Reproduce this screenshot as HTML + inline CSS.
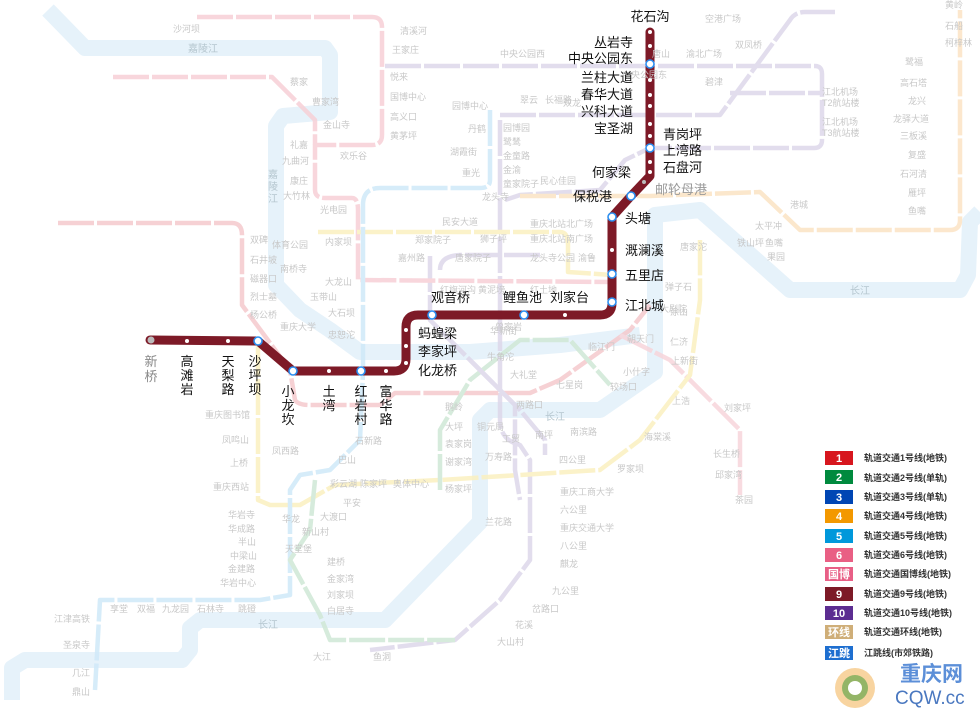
<!DOCTYPE html>
<html><head><meta charset="utf-8"><style>
html,body{margin:0;padding:0;background:#fff;}
svg{display:block;font-family:"Liberation Sans","Noto Sans CJK SC",sans-serif;}
.f{fill:#c8c8c8;font-size:9px;}
.b{fill:#111;font-size:13px;}
.lg{fill:#333;font-size:9px;font-weight:bold;}
.bx{font-size:11px;font-weight:bold;fill:#fff;}
</style></head><body>
<svg width="980" height="710" viewBox="0 0 980 710" xmlns="http://www.w3.org/2000/svg">
<rect width="980" height="710" fill="#fff"/>
<!-- rivers -->
<g fill="none" stroke="#e6f2fa" stroke-width="16" stroke-linejoin="round" stroke-linecap="butt">
<path d="M48,10 L85,48 L325,48 L330,55 L330,112 L283,116 L276,126 L276,285 L300,310 L330,330 L360,352 L470,352 L560,345 L640,335"/>
<path d="M12,700 L12,668 L25,660 L182,660 L190,650 L190,628 L200,620 L385,620 L480,522 L480,420 L490,410 L600,410 L655,372 L655,215 L700,210 L790,290 L960,290 L968,275 L970,222 L980,212"/>
</g>
<!-- faint lines -->
<g fill="none" stroke-width="4.5" stroke-linejoin="round" stroke-dasharray="36 3" opacity="0.85">
<path stroke="#ddd8ea" d="M385,66 L815,66 Q822,66 822,74 L822,140 Q822,148 814,148 L650,148 L625,160 L600,190 L520,195 L505,200"/>
<path stroke="#ddd8ea" d="M500,115 L720,115 L790,20 Q795,12 805,12 L835,12"/>
<path stroke="#ddd8ea" d="M730,93 L822,93"/>
<path stroke="#ddd8ea" d="M500,120 L500,240 L500,420 Q500,440 520,445 L530,460 L530,560 L500,600 L455,640 L370,650"/>
<path stroke="#ddd8ea" d="M430,256 L430,320 L470,360 L520,410 L545,440 L545,455"/>
<path stroke="#ddd8ea" d="M540,255 L460,255 Q440,256 440,270"/>
<path stroke="#f7d0d6" d="M197,17 L372,17 Q382,17 382,27 L382,135 Q382,145 372,145 L315,145 L315,190 Q315,198 325,198 L352,198 Q358,198 358,210 L358,280 L612,282"/>
<path stroke="#f7d0d6" d="M113,77 L272,77 L315,120 L315,145"/>
<path stroke="#f5c9cd" d="M58,223 L232,223 Q242,223 242,235 L242,305 L290,370 L295,400 Q298,405 310,405 L380,405 L395,393 L440,393 L530,393 L560,380 L630,330 L650,305"/>
<path stroke="#f7d5db" d="M620,335 L670,360 L740,430 L740,495"/>
<path stroke="#fbf0c0" d="M258,340 L258,500 L270,505 L300,505 L335,485 L440,480 L600,470 L640,440 L690,375 L700,300 L700,240"/>
<path stroke="#fbf0c0" d="M318,232 L340,232 L500,232 L560,232 Q568,232 568,245 L568,272 L612,275"/>
<path stroke="#fbe3c4" d="M520,196 L612,196 L650,196 L760,192 L800,230 L950,230 Q960,230 960,220 L960,10"/>
<path stroke="#cfe9f8" d="M490,110 L490,180 Q490,188 480,188 L380,188 Q363,188 363,205 L363,372 L360,440 L330,470 L300,475 L290,490 L290,595 L260,600 L100,600 L95,690"/>
<path stroke="#d0e8d6" d="M315,480 L310,530 L290,560 L320,615 L330,640 L455,640"/>
<path stroke="#d0e8d6" d="M440,490 L440,430 L470,380 L520,340 L570,340 L610,385"/>
<path stroke="#ddd8ea" d="M470,360 L515,405 L515,470 L520,500"/>
</g>
<!-- line 9 -->
<path d="M150,340 L258,341 L293,371 L394,371 Q406,371 406,359 L406,327 Q406,315 418,315 L600,315 Q612,315 612,303 L612,217 L631,196 L650,176 L650,32" fill="none" stroke="#7d1a27" stroke-width="9" stroke-linejoin="round" stroke-linecap="round"/>
<g fill="#fff">
<circle cx="151" cy="340" r="3.5" fill="#bbb"/>
<circle cx="187" cy="341" r="2"/><circle cx="228" cy="341" r="2"/>
<circle cx="329" cy="371" r="2"/><circle cx="386" cy="371" r="2"/>
<circle cx="406" cy="330" r="2"/><circle cx="406" cy="346" r="2"/><circle cx="406" cy="363" r="2"/>
<circle cx="565" cy="315" r="2"/><circle cx="612" cy="250" r="2"/>
<circle cx="644" cy="182" r="2" fill="#bbb"/>
<circle cx="650" cy="32" r="2"/><circle cx="650" cy="46" r="2"/><circle cx="650" cy="80" r="2"/><circle cx="650" cy="95" r="2"/><circle cx="650" cy="106" r="2"/><circle cx="650" cy="124" r="2"/><circle cx="650" cy="136" r="2"/><circle cx="650" cy="162" r="2"/><circle cx="650" cy="172" r="2"/>
</g>
<g fill="#fff" stroke="#2b8ef0" stroke-width="1.6">
<circle cx="258" cy="341" r="4"/><circle cx="293" cy="371" r="4"/><circle cx="361" cy="371" r="4"/>
<circle cx="432" cy="315" r="4"/><circle cx="524" cy="315" r="4"/>
<circle cx="612" cy="302" r="4"/><circle cx="612" cy="274" r="4"/><circle cx="612" cy="217" r="4"/>
<circle cx="631" cy="196" r="4"/><circle cx="650" cy="64" r="4"/><circle cx="650" cy="148" r="4"/>
</g>
<!-- faint labels -->
<g class="f">
<text x="173" y="32">沙河坝</text><text x="400" y="34">清溪河</text><text x="392" y="53">王家庄</text><text x="390" y="80">悦来</text>
<text x="390" y="100">国博中心</text><text x="390" y="120">高义口</text><text x="390" y="139">黄茅坪</text>
<text x="290" y="85">蔡家</text><text x="312" y="105">曹家湾</text><text x="323" y="128">金山寺</text>
<text x="290" y="148">礼嘉</text><text x="282" y="164">九曲河</text><text x="290" y="184">康庄</text><text x="283" y="199">大竹林</text>
<text x="340" y="159">欢乐谷</text><text x="320" y="213">光电园</text><text x="325" y="245">内家坝</text>
<text x="250" y="243">双碑</text><text x="250" y="263">石井坡</text><text x="250" y="282">磁器口</text><text x="250" y="300">烈士墓</text><text x="250" y="318">杨公桥</text>
<text x="272" y="248">体育公园</text><text x="280" y="272">南桥寺</text><text x="325" y="285">大龙山</text><text x="310" y="300">玉带山</text><text x="328" y="316">大石坝</text><text x="280" y="330">重庆大学</text><text x="328" y="338">忠恕沱</text>
<text x="205" y="418">重庆图书馆</text><text x="222" y="443">凤鸣山</text><text x="230" y="466">上桥</text><text x="213" y="490">重庆西站</text>
<text x="228" y="518">华岩寺</text><text x="228" y="532">华成路</text><text x="238" y="545">半山</text><text x="230" y="559">中梁山</text><text x="228" y="572">金建路</text><text x="220" y="586">华岩中心</text>
<text x="110" y="612">享堂</text><text x="137" y="612">双福</text><text x="162" y="612">九龙园</text><text x="197" y="612">石林寺</text><text x="238" y="612">跳磴</text>
<text x="54" y="622">江津高铁</text><text x="63" y="648">圣泉寺</text><text x="72" y="676">几江</text><text x="72" y="695">鼎山</text>
<text x="272" y="454">凤西路</text><text x="355" y="444">石新路</text><text x="338" y="463">巴山</text><text x="330" y="487">彩云湖</text><text x="360" y="487">陈家坪</text><text x="393" y="487">奥体中心</text>
<text x="282" y="522">华龙</text><text x="320" y="520">大渡口</text><text x="302" y="535">新山村</text><text x="285" y="552">天堂堡</text><text x="343" y="506">平安</text>
<text x="327" y="565">建桥</text><text x="327" y="582">金家湾</text><text x="327" y="598">刘家坝</text><text x="327" y="614">白居寺</text><text x="313" y="660">大江</text><text x="373" y="660">鱼洞</text>
<text x="490" y="334">华新街</text><text x="495" y="330">曾家岩</text><text x="487" y="360">牛角沱</text><text x="510" y="378">大礼堂</text><text x="556" y="388">七星岗</text><text x="516" y="408">两路口</text>
<text x="588" y="350">临江门</text><text x="627" y="342">朝天门</text><text x="623" y="375">小什字</text><text x="610" y="390">较场口</text><text x="671" y="364">上新街</text><text x="670" y="345">仁济</text>
<text x="445" y="410">鹅岭</text><text x="445" y="430">大坪</text><text x="445" y="447">袁家岗</text><text x="445" y="465">谢家湾</text><text x="445" y="492">杨家坪</text>
<text x="477" y="430">铜元局</text><text x="502" y="442">工贸</text><text x="485" y="460">万寿路</text><text x="535" y="438">南坪</text><text x="570" y="435">南滨路</text><text x="559" y="463">四公里</text>
<text x="560" y="495">重庆工商大学</text><text x="560" y="513">六公里</text><text x="560" y="531">重庆交通大学</text><text x="560" y="549">八公里</text><text x="560" y="567">麒龙</text><text x="552" y="594">九公里</text><text x="532" y="612">岔路口</text><text x="515" y="628">花溪</text><text x="497" y="645">大山村</text>
<text x="485" y="525">兰花路</text><text x="617" y="472">罗家坝</text><text x="644" y="440">海棠溪</text><text x="672" y="404">上浩</text><text x="724" y="411">刘家坪</text><text x="713" y="457">长生桥</text><text x="715" y="478">邱家湾</text><text x="735" y="503">茶园</text>
<text x="705" y="22">空港广场</text><text x="735" y="48">双凤桥</text><text x="705" y="85">碧津</text><text x="686" y="57">渝北广场</text><text x="652" y="57">唐山</text>
<text x="822" y="95">江北机场</text><text x="822" y="106">T2航站楼</text><text x="822" y="125">江北机场</text><text x="822" y="136">T3航站楼</text>
<text x="500" y="57">中央公园西</text><text x="520" y="103">翠云</text><text x="545" y="103">长福路</text><text x="563" y="106">双龙</text><text x="622" y="78">中央公园东</text>
<text x="452" y="109">园博中心</text><text x="468" y="132">丹鹤</text><text x="450" y="155">湖霞街</text><text x="462" y="176">重光</text>
<text x="503" y="131">园博园</text><text x="503" y="145">鹭鸶</text><text x="503" y="159">金童路</text><text x="503" y="173">金渝</text><text x="503" y="187">童家院子</text><text x="540" y="184">民心佳园</text>
<text x="482" y="200">龙头寺</text><text x="442" y="225">民安大道</text><text x="480" y="242">狮子坪</text><text x="415" y="243">郑家院子</text><text x="398" y="261">嘉州路</text><text x="455" y="261">唐家院子</text>
<text x="530" y="227">重庆北站北广场</text><text x="530" y="242">重庆北站南广场</text><text x="530" y="261">龙头寺公园</text><text x="578" y="261">渝鲁</text>
<text x="440" y="293">红旗河沟</text><text x="478" y="293">黄泥塝</text><text x="530" y="293">红土地</text>
<text x="680" y="250">唐家沱</text><text x="737" y="246">铁山坪</text><text x="765" y="246">鱼嘴</text><text x="767" y="260">果园</text><text x="790" y="208">港城</text><text x="755" y="229">太平冲</text>
<text x="905" y="65">鹭福</text><text x="900" y="86">高石塔</text><text x="908" y="104">龙兴</text><text x="893" y="122">龙驿大道</text><text x="900" y="139">三板溪</text><text x="908" y="158">复盛</text><text x="900" y="177">石河清</text><text x="908" y="196">雁坪</text><text x="908" y="214">鱼嘴</text>
<text x="945" y="8">黄岭</text><text x="945" y="29">石船</text><text x="945" y="46">柯梓林</text>
<text x="665" y="290">弹子石</text><text x="670" y="315">涂山</text><text x="660" y="312">大剧院</text>
</g>
<g fill="#b5c6cf" font-size="10"><text x="188" y="52">嘉陵江</text><text x="258" y="628">长江</text><text x="545" y="420">长江</text><text x="850" y="294">长江</text></g>
<g fill="#b5c6cf" font-size="10"><text x="268" y="178">嘉</text><text x="268" y="190">陵</text><text x="268" y="202">江</text></g>
<!-- line 9 labels -->
<g class="b">
<text x="650" y="21" text-anchor="middle">花石沟</text>
<text x="633" y="47" text-anchor="end">丛岩寺</text>
<text x="633" y="63" text-anchor="end">中央公园东</text>
<text x="633" y="82" text-anchor="end">兰柱大道</text>
<text x="633" y="99" text-anchor="end">春华大道</text>
<text x="633" y="116" text-anchor="end">兴科大道</text>
<text x="633" y="133" text-anchor="end">宝圣湖</text>
<text x="663" y="139">青岗坪</text><text x="663" y="155">上湾路</text><text x="663" y="172">石盘河</text>
<text x="631" y="177" text-anchor="end">何家梁</text>
<text x="612" y="201" text-anchor="end">保税港</text>
<text x="625" y="223">头塘</text><text x="625" y="255">溉澜溪</text><text x="625" y="280">五里店</text><text x="625" y="310">江北城</text>
<text x="550" y="302">刘家台</text><text x="503" y="302">鲤鱼池</text><text x="431" y="302">观音桥</text>
<text x="418" y="338">蚂蝗梁</text><text x="418" y="356">李家坪</text><text x="418" y="375">化龙桥</text>
</g>
<g class="b" text-anchor="middle">
<text x="151" y="366" fill="#888">新</text><text x="151" y="381" fill="#888">桥</text>
<text x="187" y="366">高</text><text x="187" y="380">滩</text><text x="187" y="394">岩</text>
<text x="228" y="366">天</text><text x="228" y="380">梨</text><text x="228" y="394">路</text>
<text x="255" y="366">沙</text><text x="255" y="380">坪</text><text x="255" y="394">坝</text>
<text x="288" y="396">小</text><text x="288" y="410">龙</text><text x="288" y="424">坎</text>
<text x="329" y="396">土</text><text x="329" y="410">湾</text>
<text x="361" y="396">红</text><text x="361" y="410">岩</text><text x="361" y="424">村</text>
<text x="386" y="396">富</text><text x="386" y="410">华</text><text x="386" y="424">路</text>
</g>
<text x="655" y="194" fill="#999" font-size="13">邮轮母港</text>
<!-- legend -->
<g>
<rect x="825" y="451" width="28" height="14" fill="#d7161e"/><text class="bx" x="839" y="462" text-anchor="middle">1</text><text class="lg" x="864" y="461">轨道交通1号线(地铁)</text>
<rect x="825" y="470" width="28" height="14" fill="#008a3e"/><text class="bx" x="839" y="481" text-anchor="middle">2</text><text class="lg" x="864" y="481">轨道交通2号线(单轨)</text>
<rect x="825" y="490" width="28" height="14" fill="#0046b4"/><text class="bx" x="839" y="501" text-anchor="middle">3</text><text class="lg" x="864" y="500">轨道交通3号线(单轨)</text>
<rect x="825" y="509" width="28" height="14" fill="#f39800"/><text class="bx" x="839" y="520" text-anchor="middle">4</text><text class="lg" x="864" y="519">轨道交通4号线(地铁)</text>
<rect x="825" y="529" width="28" height="14" fill="#0098db"/><text class="bx" x="839" y="540" text-anchor="middle">5</text><text class="lg" x="864" y="539">轨道交通5号线(地铁)</text>
<rect x="825" y="548" width="28" height="14" fill="#e95f84"/><text class="bx" x="839" y="559" text-anchor="middle">6</text><text class="lg" x="864" y="558">轨道交通6号线(地铁)</text>
<rect x="825" y="567" width="28" height="14" fill="#e85f86"/><text class="bx" x="839" y="578" text-anchor="middle" font-size="10">国博</text><text class="lg" x="864" y="577">轨道交通国博线(地铁)</text>
<rect x="825" y="587" width="28" height="14" fill="#7d1a27"/><text class="bx" x="839" y="598" text-anchor="middle">9</text><text class="lg" x="864" y="597">轨道交通9号线(地铁)</text>
<rect x="825" y="606" width="28" height="14" fill="#5c2d91"/><text class="bx" x="839" y="617" text-anchor="middle">10</text><text class="lg" x="864" y="616">轨道交通10号线(地铁)</text>
<rect x="825" y="625" width="28" height="14" fill="#cfae78"/><text class="bx" x="839" y="636" text-anchor="middle" font-size="10">环线</text><text class="lg" x="864" y="635">轨道交通环线(地铁)</text>
<rect x="825" y="646" width="28" height="14" fill="#1e6fd0"/><text class="bx" x="839" y="657" text-anchor="middle" font-size="10">江跳</text><text class="lg" x="864" y="656" fill="#777">江跳线(市郊铁路)</text>
</g>
<!-- logo -->
<g>
<circle cx="855" cy="688" r="20" fill="#f4b860" opacity="0.6"/>
<circle cx="855" cy="688" r="13" fill="#6aa84f" opacity="0.7"/>
<circle cx="855" cy="688" r="7" fill="#fff"/>
<text x="900" y="681" fill="#5c8fd8" font-size="21" font-weight="bold">重庆网</text>
<text x="895" y="704" fill="#4a78c0" font-size="19">CQW.cc</text>
</g>
</svg>
</body></html>
